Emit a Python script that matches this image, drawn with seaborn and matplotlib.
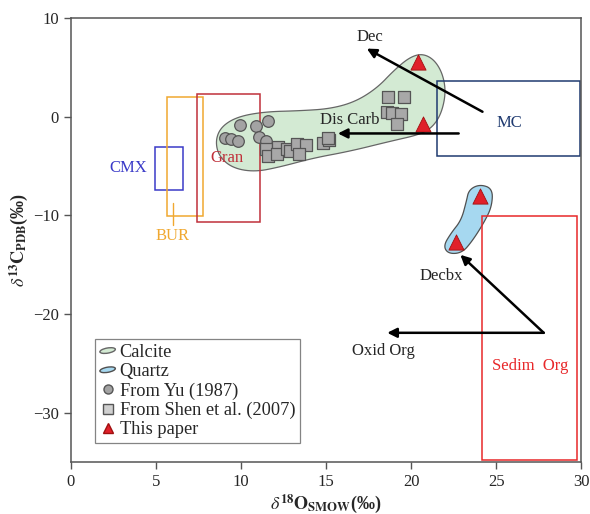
import numpy as np
import pandas as pd
import matplotlib
matplotlib.use("Agg")
import matplotlib.pyplot as plt
import matplotlib.patches as mpatches
from matplotlib.lines import Line2D
from matplotlib.legend_handler import HandlerPatch
import seaborn as sns

# ---- data ----
yu_o = [9.06, 9.4, 9.8, 9.95, 10.9, 11.6, 11.05, 11.5]
yu_c = [-2.2, -2.3, -2.5, -0.8, -0.9, -0.4, -2.1, -2.5]

shen_o = [11.5, 11.6, 12.2, 12.1, 12.7, 12.9, 13.3, 13.8, 13.4, 14.8, 15.2, 15.1,
          18.65, 19.6, 18.6, 18.9, 19.4, 19.2]
shen_c = [-3.3, -4.0, -3.1, -3.8, -3.3, -3.5, -2.8, -2.9, -3.8, -2.7, -2.4, -2.2,
          2.0, 2.0, 0.5, 0.4, 0.3, -0.7]

this_o = [20.4, 20.7, 24.06, 22.65]
this_c = [5.5, -0.7, -8.05, -12.7]

# field outlines (O, C)
calcite_o = [8.5, 8.85, 9.8, 11.4, 13.47, 15.24, 16.71, 18.0, 19.0, 19.9, 20.65,
             21.35, 21.85, 22.05, 21.8, 21.3, 20.55, 18.76, 16.41, 14.24, 12.29,
             10.8, 9.5, 8.7]
calcite_c = [-2.4, -1.0, 0.0, 0.5, 0.6, 0.8, 1.5, 2.9, 4.7, 6.0, 6.4, 5.8, 4.4, 2.5,
             0.4, -1.0, -1.8, -2.5, -3.5, -4.2, -5.1, -5.6, -5.2, -4.0]
quartz_o = [23.4, 24.05, 24.8, 24.75, 24.3, 23.6, 23.0, 22.2, 21.9, 22.35, 22.95, 23.25]
quartz_c = [-7.4, -6.85, -7.3, -9.1, -10.7, -12.6, -13.8, -13.9, -13.1, -11.8, -10.5, -8.6]

# source boxes: name, O min, O max, C min, C max
box_names = ["CMX", "BUR", "Gran", "MC", "Sedim Org"]
box_o0 = [4.94, 5.65, 7.41, 21.5, 24.2]
box_o1 = [6.59, 7.8, 11.12, 29.95, 29.75]
box_c0 = [-7.4, -10.1, -10.7, -4.0, -34.8]
box_c1 = [-3.1, 2.0, 2.3, 3.6, -10.1]
box_colors = ["#3a3ac8", "#f0a830", "#c0303a", "#1f3a70", "#e8282a"]

# process arrows: (start O, start C) -> (end O, end C)
arrow_from = [(24.2, 0.5), (22.8, -1.7), (27.8, -21.9), (27.8, -21.9)]
arrow_to = [(17.4, 6.9), (15.7, -1.7), (22.9, -14.0), (18.6, -21.9)]


def chaikin(xs, ys, n=3):
    pts = np.column_stack([xs, ys])
    for _ in range(n):
        nxt = np.roll(pts, -1, axis=0)
        q = 0.75 * pts + 0.25 * nxt
        r = 0.25 * pts + 0.75 * nxt
        pts = np.empty((2 * len(q), 2))
        pts[0::2] = q
        pts[1::2] = r
    return pts


sns.set_style("ticks")
plt.rcParams["font.family"] = ["Liberation Serif", "DejaVu Serif"]
plt.rcParams["mathtext.fontset"] = "stix"

fig = plt.figure(figsize=(5.9, 5.14), dpi=100)
ax = fig.add_axes([0.12, 0.101, 0.865, 0.864])

# fields
calc = mpatches.Polygon(chaikin(calcite_o, calcite_c), closed=True,
                        facecolor="#d3ead3", edgecolor="#666666", lw=0.9, zorder=1)
quar = mpatches.Polygon(chaikin(quartz_o, quartz_c), closed=True,
                        facecolor="#a6d8f0", edgecolor="#505050", lw=0.9, zorder=1)
ax.add_patch(calc)
ax.add_patch(quar)

# source boxes
for o0, o1, c0, c1, col in zip(box_o0, box_o1, box_c0, box_c1, box_colors):
    ax.add_patch(mpatches.Rectangle((o0, c0), o1 - o0, c1 - c0, fill=False,
                                    edgecolor=col, lw=1.1, zorder=2))

# points
df_yu = pd.DataFrame({"O": yu_o, "C": yu_c})
df_shen = pd.DataFrame({"O": shen_o, "C": shen_c})
df_this = pd.DataFrame({"O": this_o, "C": this_c})
sns.scatterplot(data=df_yu, x="O", y="C", ax=ax, marker="o", s=70,
                color="#a3a3a3", edgecolor="#555555", linewidth=0.9, zorder=3)
sns.scatterplot(data=df_shen, x="O", y="C", ax=ax, marker="s", s=85,
                color="#a8a8a8", edgecolor="#555555", linewidth=0.9, zorder=3)
sns.scatterplot(data=df_this, x="O", y="C", ax=ax, marker="^", s=120,
                color="#e0202a", edgecolor="#a01010", linewidth=0.6, zorder=4)

# arrows
for (x0, y0), (x1, y1) in zip(arrow_from, arrow_to):
    ax.annotate("", xy=(x1, y1), xytext=(x0, y0), zorder=5,
                arrowprops=dict(arrowstyle="-|>", color="black", lw=1.8,
                                mutation_scale=14, shrinkA=0, shrinkB=0))
ax.plot([6.0, 6.0], [-8.7, -11.0], color="#f0a830", lw=1.0, zorder=2)

# labels
fs = 12
ax.text(17.6, 8.1, "Dec", fontsize=fs, ha="center", va="center")
ax.text(16.4, -0.3, "Dis Carb", fontsize=fs, ha="center", va="center")
ax.text(25.8, -0.6, "MC", fontsize=fs, ha="center", va="center", color="#1f3a70")
ax.text(21.8, -16.1, "Decbx", fontsize=fs, ha="center", va="center")
ax.text(18.35, -23.7, "Oxid Org", fontsize=fs, ha="center", va="center")
ax.text(27.0, -25.3, "Sedim  Org", fontsize=fs, ha="center", va="center", color="#e8282a")
ax.text(3.4, -5.2, "CMX", fontsize=fs, ha="center", va="center", color="#3a3ac8")
ax.text(5.95, -12.1, "BUR", fontsize=fs, ha="center", va="center", color="#f0a830")
ax.text(9.2, -4.2, "Gran", fontsize=fs, ha="center", va="center", color="#c0303a")

ax.set_xlim(0, 30)
ax.set_ylim(-35, 10)
ax.set_xticks([0, 5, 10, 15, 20, 25, 30])
ax.set_yticks([-30, -20, -10, 0, 10])
ax.set_yticklabels(["\u221230", "\u221220", "\u221210", "0", "10"])
ax.tick_params(direction="out", length=5, width=1, color="#555555",
               labelsize=12, top=False, right=False)
for sp in ax.spines.values():
    sp.set_color("#555555")
    sp.set_linewidth(1.1)

ax.set_xlabel(r"$\delta^{\mathbf{18}}\mathbf{O}_{\mathbf{SMOW}}$(‰)", fontsize=13,
              fontweight="bold", labelpad=2)
ax.set_ylabel(r"$\delta^{\mathbf{13}}\mathbf{C}_{\mathbf{PDB}}$(‰)", fontsize=13,
              fontweight="bold", labelpad=2)


def blob(legend, orig_handle, xdescent, ydescent, width, height, fontsize):
    return mpatches.Ellipse((width / 2 - xdescent, height / 2 - ydescent),
                            width * 0.95, height * 0.4, angle=10)


handles = [
    mpatches.Patch(facecolor="#d3ead3", edgecolor="#666666", label="Calcite"),
    mpatches.Patch(facecolor="#a6d8f0", edgecolor="#505050", label="Quartz"),
    Line2D([], [], ls="", marker="o", ms=6.5, mfc="#a3a3a3", mec="#555555", label="From Yu (1987)"),
    Line2D([], [], ls="", marker="s", ms=6.5, mfc="#d0d0d0", mec="#555555", label="From Shen et al. (2007)"),
    Line2D([], [], ls="", marker="^", ms=6.5, mfc="#e0202a", mec="#a01010", label="This paper"),
]
leg = ax.legend(handles=handles, loc="lower left", bbox_to_anchor=(0.047, 0.043),
                borderaxespad=0, fontsize=13.2, frameon=True, fancybox=False,
                handlelength=0.9, handletextpad=0.2, labelspacing=0.12, borderpad=0.25,
                handler_map={mpatches.Patch: HandlerPatch(patch_func=blob)})
leg.get_frame().set_edgecolor("#666666")
leg.get_frame().set_linewidth(0.9)

fig.savefig("out.png", dpi=100)
